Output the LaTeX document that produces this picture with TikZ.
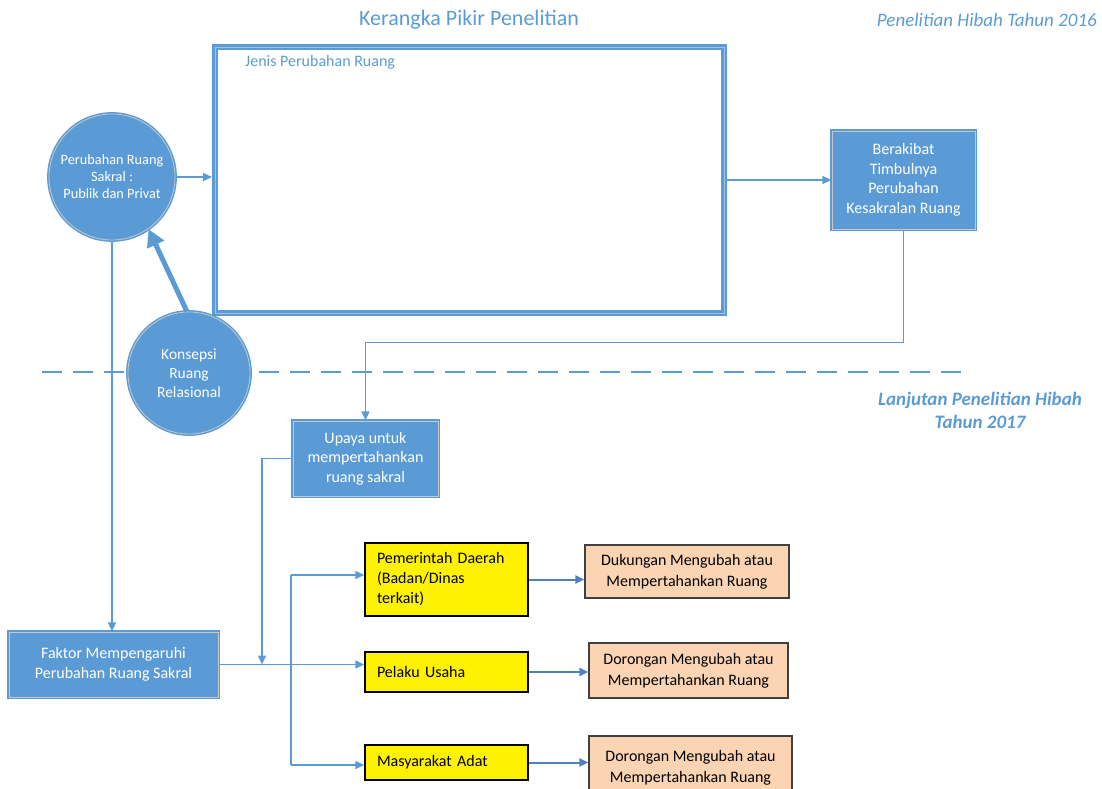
\documentclass[tikz,border=0pt]{standalone}
\usepackage{fontspec}
\setmainfont{Carlito}
\usetikzlibrary{arrows.meta,calc}
\definecolor{mb}{HTML}{5B9BD5}
\definecolor{ab}{HTML}{4F81BD}
\definecolor{peach}{HTML}{FBD4B4}
\definecolor{ringg}{HTML}{C8C8C8}
\begin{document}
\begin{tikzpicture}[x=1pt,y=-1pt,
  bluebox/.style={rectangle, fill=mb, draw=mb, double=ringg, double distance=0.8pt, line width=1.2pt, text=white, align=center, font=\fontsize{16}{19.5}\selectfont, inner sep=0pt},
  bluecirc/.style={circle, fill=mb, draw=mb, double=ringg, double distance=0.8pt, line width=1.5pt, text=white, align=center, inner sep=0pt, minimum size=126, font=\fontsize{14.3}{17}\selectfont},
  ybox/.style={rectangle, fill=yellow, draw=black, line width=1.5pt, align=left, text width=139, inner xsep=12pt, inner ysep=0pt, minimum width=163, font=\fontsize{16}{20}\selectfont},
  pbox/.style={rectangle, fill=peach, draw=black!75, line width=1.2pt, align=center, inner sep=0pt, font=\fontsize{16}{21}\selectfont},
  conn/.style={draw=mb, line width=1.5pt, -{Triangle[length=9pt,width=8pt]}},
  plainline/.style={draw=mb, line width=1.5pt},
  conntwo/.style={draw=ab, line width=2pt, -{Triangle[length=9pt,width=8pt]}},
  thickarrow/.style={draw=mb, line width=5pt, -{Triangle[length=17pt,width=18pt]}}
]
\useasboundingbox (0,0) rectangle (1102,788);

% dashed separator
\coordinate (dl) at (42,372);
\coordinate (dr) at (965,372);
\draw[mb, line width=1.5pt, dash pattern=on 20pt off 11pt] (dl) -- (dr);

% headers
\node[text=mb, font=\fontsize{22}{26}\selectfont] (title) at (469,20) {Kerangka Pikir Penelitian};
\node[text=mb, font=\fontsize{19}{22}\selectfont\itshape, anchor=east, inner sep=0pt] (hsix) at (1097,20) {Penelitian Hibah Tahun 2016};
\node[text=mb, font=\fontsize{19}{23}\selectfont\bfseries\itshape, align=center] (hseven) at (980,410) {Lanjutan Penelitian Hibah\\Tahun 2017};

% big box
\node[draw=mb, line width=6pt, minimum width=509, minimum height=266, inner sep=0pt,
      postaction={draw=mb!60!white, line width=0.6pt}] (big) at (469.5,180) {};
\node[text=mb, anchor=west, inner sep=0pt, font=\fontsize{16}{18}\selectfont] (jenis) at (245,62) {Jenis Perubahan Ruang};

% circles
\node[bluecirc] (c1) at (112,177) {Perubahan Ruang\\Sakral :\\Publik dan Privat};
\node[bluecirc, minimum size=122, font=\fontsize{15.5}{19}\selectfont] (k) at (189,373) {Konsepsi\\Ruang\\Relasional};

% blue boxes
\node[bluebox, minimum width=143, minimum height=98] (ber) at (903.5,180) {Berakibat\\Timbulnya\\Perubahan\\Kesakralan Ruang};
\node[bluebox, minimum width=145, minimum height=75] (up) at (365.5,458.5) {Upaya untuk\\mempertahankan\\ruang sakral};
\node[bluebox, minimum width=209, minimum height=65, font=\fontsize{16}{20}\selectfont] (fak) at (113.5,664.5) {Faktor Mempengaruhi\\Perubahan Ruang Sakral};

% yellow boxes
\node[ybox, minimum height=73] (pem) at (446.5,579.5) {Pemerintah Daerah\\(Badan/Dinas\\terkait)};
\node[ybox, minimum height=40] (pel) at (446.5,672) {Pelaku Usaha};
\node[ybox, minimum height=35] (mas) at (446.5,762.5) {Masyarakat Adat};

% peach boxes
\node[pbox, minimum width=204, minimum height=53] (duk) at (687,571.5) {Dukungan Mengubah atau\\Mempertahankan Ruang};
\node[pbox, minimum width=199, minimum height=55] (dor) at (688.5,670.5) {Dorongan Mengubah atau\\Mempertahankan Ruang};
\node[pbox, minimum width=203, minimum height=64] (dorb) at (690.5,768) {Dorongan Mengubah atau\\Mempertahankan Ruang};

% connectors
\draw[conn] (c1.east) -- (c1.east -| big.west);
\draw[conn] (big.east) -- (ber.west);
\draw[thickarrow] (k.92) -- (c1.-55);
\draw[conn] (c1.south) -- (c1.south |- fak.north);
\draw[conn] (ber.south) -- ++(0,113) -| (up.north);
\coordinate (jn) at (262,664.5);
\draw[conn] (up.west) -| (jn);
\draw[conn] (fak.east) -- (fak.east -| pel.west);
\coordinate (bt) at (291,575);
\coordinate (bb) at (291,765);
\draw[plainline] (bt) -- (bb);
\draw[conn] (bt) -- (bt -| pem.west);
\draw[conn] (bb) -- (bb -| mas.west);
\draw[conntwo] (pem.east) -- (pem.east -| duk.west);
\draw[conntwo] (pel.east) -- (pel.east -| dor.west);
\draw[conntwo] (mas.east) -- (mas.east -| dorb.west);
\end{tikzpicture}
\end{document}
